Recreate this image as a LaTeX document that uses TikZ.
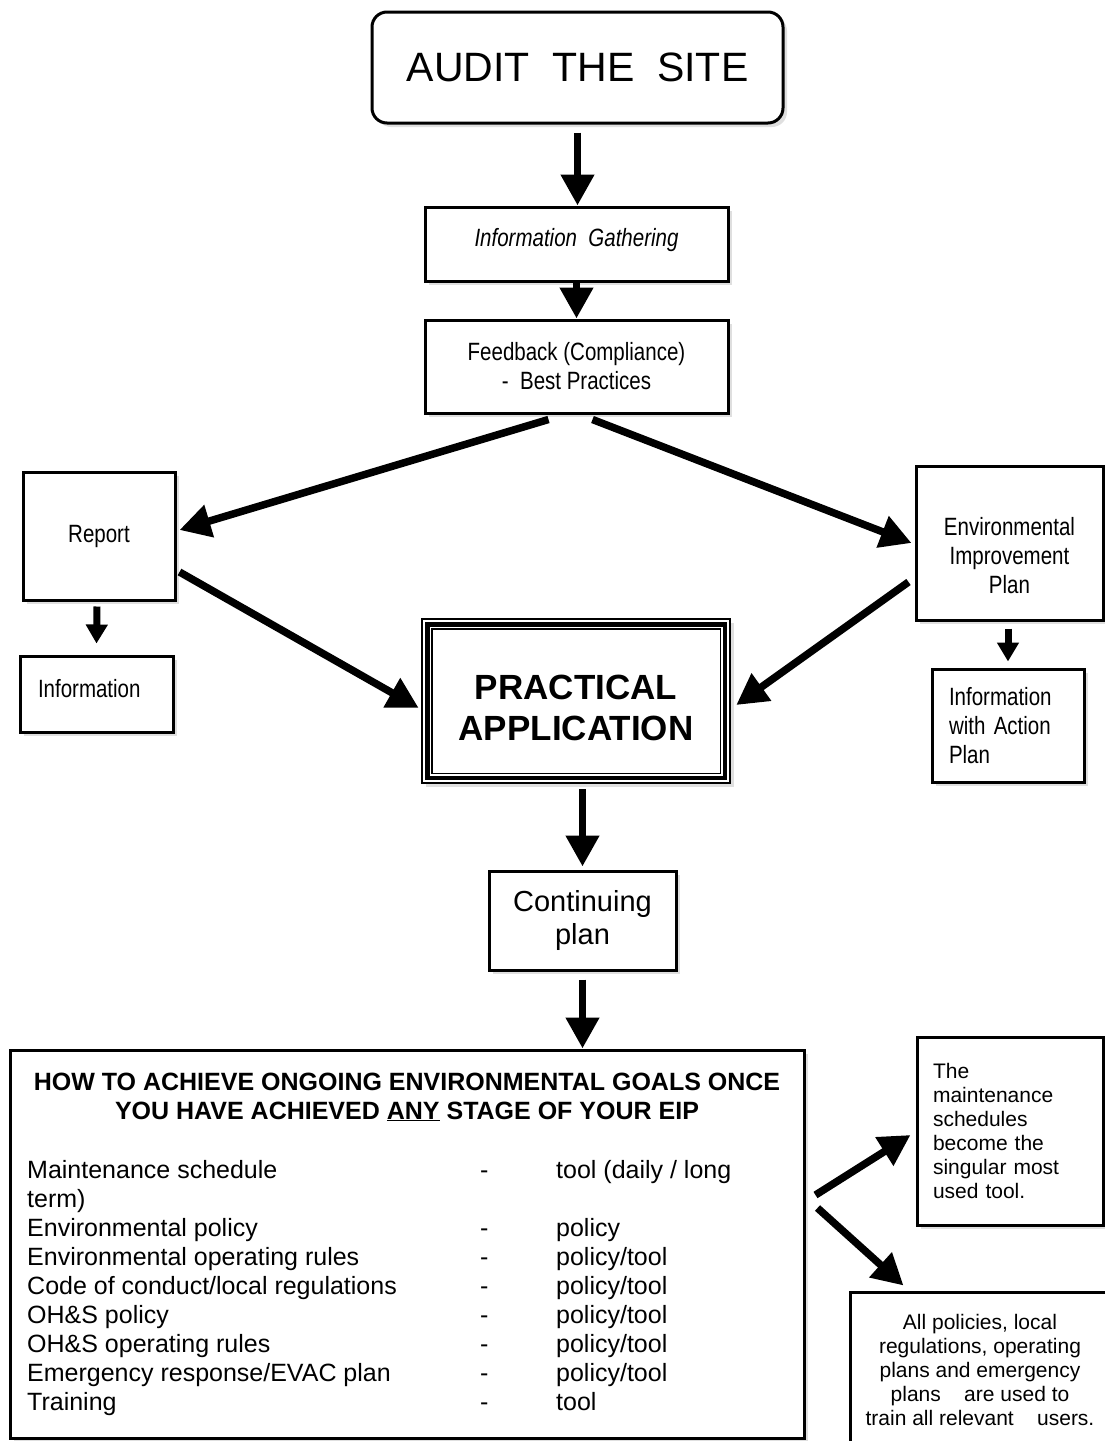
\documentclass[tikz,border=0pt]{standalone}
\usepackage{fontspec}
\setmainfont{Liberation Sans}
\newfontfamily\narrowfont[FakeStretch=0.82]{Liberation Sans}
\usetikzlibrary{calc,arrows.meta,shadows}
\newcommand*{\fsz}[2]{\fontsize{#1}{#2}\selectfont}
\newcommand*{\nrw}{\narrowfont\fsz{25}{29}}

\tikzset{
  box/.style={draw,line width=3pt,fill=white,inner sep=0pt,
    drop shadow={shadow xshift=4pt,shadow yshift=-4pt,opacity=.25}},
  bigarrow/.style={line width=7.5pt,-{Triangle[length=31pt,width=32pt]}},
  smallarrow/.style={line width=7pt,-{Triangle[length=19pt,width=21pt]}}
}

\begin{document}
\begin{tikzpicture}[x=1pt,y=-1pt]
\useasboundingbox (0,0) rectangle (1104,1441);
% Top of the chart
\node[box,rounded corners=15pt,minimum width=411,minimum height=111,
      font=\fsz{41}{48}] (audit) at (577.5,67.5) {AUDIT~~THE~~SITE};
\node[box,minimum width=303,minimum height=74,font=\nrw\itshape]
      (gather) at (576.5,244) {Information~~Gathering\rule[-13pt]{0pt}{0pt}};
\node[box,minimum width=303,minimum height=93,font=\nrw,align=center]
      (feedback) at (576.5,366.5) {Feedback (Compliance)\\-~~Best Practices};
% Left column
\node[box,minimum width=152,minimum height=128,font=\nrw] (report) at (99,536) {Report};
\node[box,minimum width=153,minimum height=76,font=\nrw,text width=117,
      inner xsep=18pt,align=left] (info) at (96.5,694) {Information\rule[-12pt]{0pt}{0pt}};
% Right column
\node[box,minimum width=187,minimum height=154,font=\nrw,align=center]
      (eip) at (1009.5,543) {\rule{0pt}{44pt}Environmental\\Improvement\\Plan};
\node[box,minimum width=152,minimum height=113,font=\nrw,text width=118,
      inner xsep=17pt,align=left] (action) at (1008,725.5) {Information\\with Action\\Plan};
% Centre box with its triple frame
\node[box,line width=2.5pt,minimum width=308,minimum height=164,
      font=\bfseries\fsz{35}{41},align=center] (practical) at (576,701)
      {\rule{0pt}{38pt}PRACTICAL\\APPLICATION};
\draw[line width=4.5pt] ($(practical.north west)+(6.5,6.5)$) rectangle ($(practical.south east)+(-6.5,-6.5)$);
\draw[line width=1.5pt] ($(practical.north west)+(11,11)$) rectangle ($(practical.south east)+(-11,-11)$);
\node[box,minimum width=187,minimum height=99,font=\fsz{29}{33},align=center]
      (continuing) at (582.5,920.5) {Continuing\\plan};
% Bottom box
\node[box,minimum width=794,minimum height=388] (goals) at (407,1244) {};
\node[font=\bfseries\fsz{25}{29},align=center] (heading) at (407,1097)
      {HOW TO ACHIEVE ONGOING ENVIRONMENTAL GOALS ONCE\\
       YOU HAVE ACHIEVED \underline{ANY} STAGE OF YOUR EIP};
\node[anchor=north west,inner sep=0pt,font=\fsz{25}{29}] (list) at (27,1157.7)
      {\begin{tabular}{@{}p{437pt}@{}c@{\hspace{52pt}}l@{}}
       Maintenance schedule & \makebox[40pt]{-} & tool (daily / long\\
       term) & & \\
       Environmental policy & \makebox[40pt]{-} & policy\\
       Environmental operating rules & \makebox[40pt]{-} & policy/tool\\
       Code of conduct/local regulations & \makebox[40pt]{-} & policy/tool\\
       OH\&S policy & \makebox[40pt]{-} & policy/tool\\
       OH\&S operating rules & \makebox[40pt]{-} & policy/tool\\
       Emergency response/EVAC plan & \makebox[40pt]{-} & policy/tool\\
       Training & \makebox[40pt]{-} & tool
       \end{tabular}};
% Bottom right notes
\node[box,minimum width=186,minimum height=188,font=\fsz{21}{24},text width=154,
      inner xsep=16pt,align=left] (maint) at (1010,1131)
      {The\\maintenance\\schedules\\become the\\singular most\\used tool.};
\node[box,minimum width=260,minimum height=156,font=\fsz{21}{24},align=center]
      (train) at (980,1370)
      {All policies, local\\regulations, operating\\plans and emergency\\
       plans~~~~are used to\\train all relevant~~~~users.};
% Arrows down the middle
\draw[bigarrow,shorten <=8pt] (audit.south) -- (audit.south |- gather.north);
\draw[bigarrow] (gather.south) -- (feedback.north);
\draw[bigarrow,shorten <=5pt] (practical.south -| continuing.north) -- ($(continuing.north)+(0,-3)$);
\draw[bigarrow,shorten <=8pt] (continuing.south) -- (continuing.south |- goals.north);
% Arrows out of the feedback box
\draw[bigarrow] ($(feedback.south)+(-28,5)$) -- ($(report.east)+(3,-6)$);
\draw[bigarrow] ($(feedback.south)+(16,5)$) -- ($(eip.west)+(-3,0)$);
% Arrows into the centre box
\draw[bigarrow] ($(report.east)+(3,36)$) -- ($(practical.west)+(-2,7)$);
\draw[bigarrow] ($(eip.west)+(-6,39)$) -- ($(practical.east)+(5,4)$);
% Short arrows
\draw[smallarrow] ($(report.south)+(-2,5)$) -- ($(info.north)+(0,-11)$);
\draw[smallarrow] ($(eip.south)+(-1.5,7)$) -- ($(action.north)+(0,-6)$);
% Arrows out of the goals box
\draw[bigarrow] ($(goals.east)+(10,-49)$) -- ($(maint.west)+(-5,4)$);
\draw[bigarrow] ($(goals.east)+(12,-36)$) -- ($(train.north west)+(55,-5)$);
\end{tikzpicture}
\end{document}
